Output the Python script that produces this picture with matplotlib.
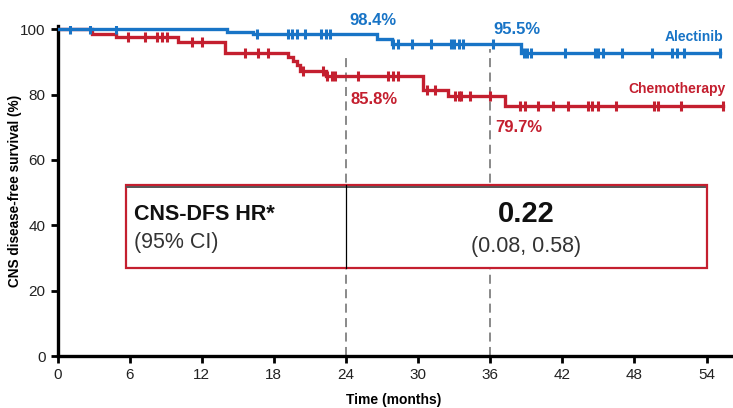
import numpy as np
import matplotlib
matplotlib.use("Agg")
import matplotlib.pyplot as plt
from matplotlib.patches import Rectangle

plt.rcParams['font.family'] = ['Liberation Sans', 'DejaVu Sans']

# Kaplan-Meier step data (months, % free of CNS progression)
alec_times = [0, 14.1, 16.3, 26.6, 27.8, 38.6, 55.1]
alec_surv = [100, 99.2, 98.4, 97.0, 95.5, 92.6, 92.6]
alec_cens = [1.0, 2.7, 4.9, 16.6, 19.2, 19.5, 19.9, 20.6, 21.9, 22.3, 22.7,
             27.9, 28.3, 29.5, 31.1, 32.7, 33.0, 33.4, 33.7, 36.2, 38.8, 39.1,
             39.4, 42.2, 44.7, 45.0, 45.4, 47.0, 49.5, 51.1, 51.5, 52.1, 55.1]

chemo_times = [0, 2.85, 4.9, 10.0, 13.9, 19.2, 19.6, 19.9, 20.2, 22.3, 30.4,
               32.5, 37.2, 55.4]
chemo_surv = [100, 98.6, 97.5, 96.0, 92.8, 91.6, 90.4, 89.2, 87.2, 85.8, 81.4,
              79.7, 76.5, 76.5]
chemo_cens = [5.9, 7.3, 8.3, 8.7, 9.1, 11.2, 12.0, 15.6, 16.7, 17.5, 20.4, 22.1,
              22.4, 22.8, 23.1, 25.0, 27.5, 27.9, 28.3, 30.7, 31.4, 33.1, 33.4,
              33.6, 34.3, 36.0, 38.5, 38.9, 40.0, 41.2, 42.5, 44.1, 44.5, 45.0,
              46.5, 49.6, 50.0, 51.9, 55.4]

landmarks = [24, 36]
alec_landmark = [98.4, 95.5]
chemo_landmark = [85.8, 79.7]

xticks = [0, 6, 12, 18, 24, 30, 36, 42, 48, 54]
yticks = [0, 20, 40, 60, 80, 100]

hr_value = "0.22"
hr_ci = "(0.08, 0.58)"

BLUE = "#1874c6"
RED = "#c41f2f"


def step_at(times, surv, t):
    idx = np.searchsorted(times, t, side='right') - 1
    return np.asarray(surv)[idx]


fig = plt.figure(figsize=(7.33, 4.08), dpi=100)
ax = fig.add_axes([57.5 / 733, 52 / 408, (730.6 - 57.5) / 733, (356 - 26) / 408])
ax.set_xlim(0, 56)
ax.set_ylim(0, 101)

# landmark reference lines
ax.vlines(landmarks, 0, [91.5, 94], colors="#808080", linestyles=(0, (5, 3)),
          lw=1.3, zorder=1)

for times, surv, cens, color in [(chemo_times, chemo_surv, chemo_cens, RED),
                                 (alec_times, alec_surv, alec_cens, BLUE)]:
    ax.step(times, surv, where='post', color=color, lw=2.4, zorder=4,
            solid_joinstyle='miter')
    cy = step_at(times, surv, cens)
    ax.plot(cens, cy, ls='none', marker='|', ms=6.5, mew=2.2, color=color, zorder=5)

# hazard ratio box
x0, x1, y0, y1 = 5.7, 54.0, 26.9, 52.3
ax.add_patch(Rectangle((x0, y0), x1 - x0, y1 - y0, facecolor='white',
                       edgecolor=RED, lw=1.6, zorder=6))
ax.plot([x0 + 0.1, x1 - 0.1], [y1 - 0.7, y1 - 0.7], color="#555555", lw=1.4, zorder=7)
ax.plot([24, 24], [y0, y1], color="black", lw=0.9, zorder=7)
ax.text(x0 + 0.7, 43.2, "CNS-DFS HR*", fontsize=15.5, fontweight='bold',
        color="#111111", va='center', ha='left', zorder=8)
ax.text(x0 + 0.7, 34.8, "(95% CI)", fontsize=15.5, color="#333333",
        va='center', ha='left', zorder=8)
ax.text(39, 43.5, hr_value, fontsize=21, fontweight='bold', color="#111111",
        va='center', ha='center', zorder=8)
ax.text(39, 33.6, hr_ci, fontsize=15.5, color="#333333",
        va='center', ha='center', zorder=8)

# landmark values
alec_offsets = [4.4, 4.3]
chemo_offsets = [-7.4, -9.9]
for xl, va, vc, oa, oc in zip(landmarks, alec_landmark, chemo_landmark,
                              alec_offsets, chemo_offsets):
    ax.text(xl + 0.3, va + oa, f"{va:.1f}%", color=BLUE, fontsize=12,
            fontweight='bold', ha='left', va='center', clip_on=False)
    ax.text(xl + 0.4, vc + oc, f"{vc:.1f}%", color=RED, fontsize=12,
            fontweight='bold', ha='left', va='center', clip_on=False)

ax.text(55.4, 97.5, "Alectinib", color=BLUE, fontsize=10, fontweight='bold',
        ha='right', va='center')
ax.text(55.6, 81.6, "Chemotherapy", color=RED, fontsize=10, fontweight='bold',
        ha='right', va='center')

for s in ['top', 'right']:
    ax.spines[s].set_visible(False)
for s in ['left', 'bottom']:
    ax.spines[s].set_linewidth(2.4)
ax.set_xticks(xticks)
ax.set_yticks(yticks)
ax.tick_params(axis='both', width=2, length=5, labelsize=11, colors='black',
               labelcolor="#222222")

ax.set_xlabel("Time (months)", fontsize=10, fontweight='bold', labelpad=8)
ax.set_ylabel("CNS disease-free survival (%)", fontsize=9.8, fontweight='bold')
ax.yaxis.set_label_coords(-0.053, 0.5)

fig.savefig("out.png", dpi=100)
